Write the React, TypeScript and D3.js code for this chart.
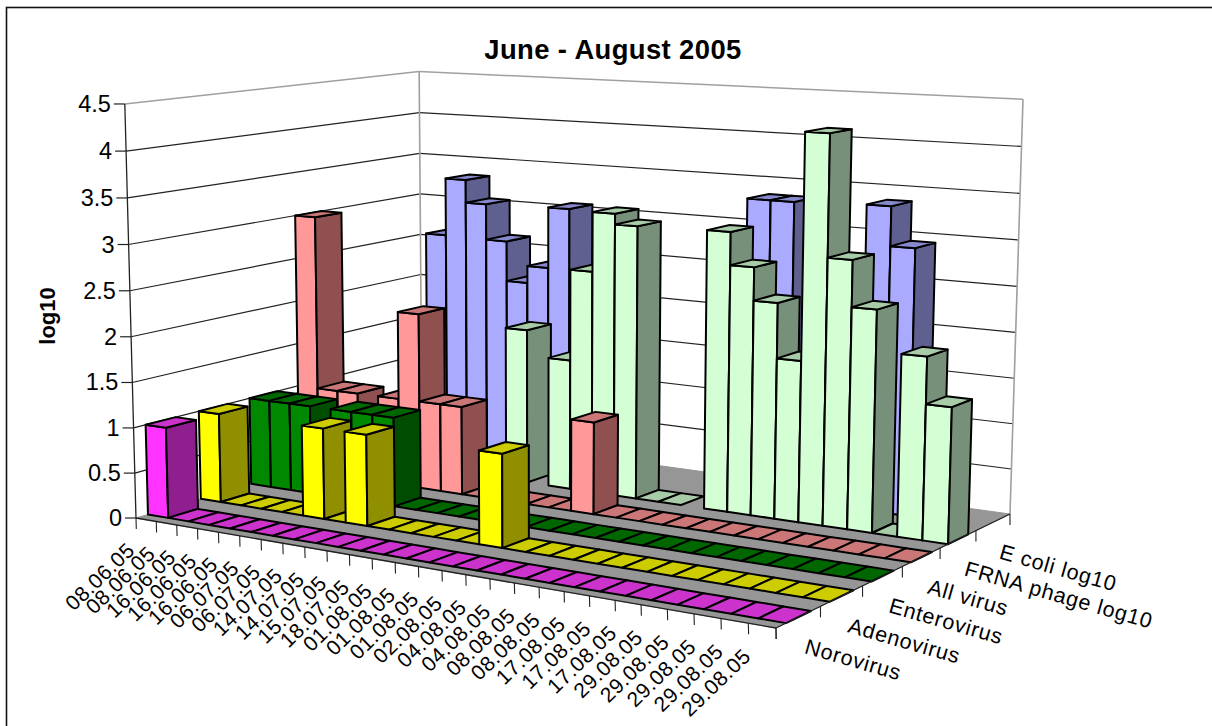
import React from "react";
import * as d3 from "d3";

// Sampling dates along the category axis
const dates = [
  "08.06.05", "08.06.05", "16.06.05", "16.06.05", "16.06.05", "06.07.05", "06.07.05",
  "14.07.05", "14.07.05", "15.07.05", "18.07.05", "01.08.05", "01.08.05", "01.08.05",
  "02.08.05", "04.08.05", "04.08.05", "08.08.05", "08.08.05", "17.08.05", "17.08.05",
  "17.08.05", "29.08.05", "29.08.05", "29.08.05", "29.08.05", "29.08.05",
];
const _ = null;
// log10 counts; null means the sample has no result and nothing is drawn for it
const norovirus = [1, 0, 0, 0, 0, 0, 0, 0, 0, 0, 0, 0, 0, 0, 0, 0, 0, 0, 0, 0, 0, 0, 0, 0, 0, 0, 0];
const adenovirus = [1, 0, 0, 0, 0, 1, 0, 1, 0, 0, 0, 0, 0, 1, 0, 0, 0, 0, 0, 0, 0, 0, 0, 0, 0, 0, 0];
const enterovirus = [1, 1, 1, 0, 1, 1, 1, 0, 0, 0, 0, 0, 0, 0, 0, 0, 0, 0, 0, 0, 0, 0, 0, 0, 0, 0, 0];
const allVirus = [3, 1, 1, 0, 1, 2, 1, 1, 0, 0, 0, 0, 0, 1.02, 0, 0, 0, 0, 0, 0, 0, 0, 0, 0, 0, 0, 0];
const frnaPhage = [_, _, _, _, _, _, _, _, 1.77, _, 1.48, 2.51, 3.18, 3.06, 0, 0, _, 3.08, 2.72, 2.36, 1.76, 4.2, 2.89, 2.39, 0, 1.95, 1.45];
const eColi = [_, _, 2.63, 3.31, 3.04, 2.62, 2.15, 2.35, 3.06, _, _, _, _, _, _, _, _, 3.33, 3.33, _, _, _, 3.36, 2.93, _, _, _];

const seriesNames = ["Norovirus", "Adenovirus", "Enterovirus", "All virus", "FRNA phage log10", "E coli log10"];
const seriesValues = [norovirus, adenovirus, enterovirus, allVirus, frnaPhage, eColi];
// front, top and side shades per series
const shades = [
  ["#ff33ff", "#cc33cc", "#8f1f8f"],
  ["#ffff00", "#cccc00", "#8f8f00"],
  ["#008800", "#006600", "#004c00"],
  ["#ff9999", "#cc7777", "#905050"],
  ["#d4ffd4", "#a8cca8", "#76907a"],
  ["#aaaaff", "#8888cc", "#606090"],
];
const yTicks = [0, 0.5, 1, 1.5, 2, 2.5, 3, 3.5, 4, 4.5];

type Pt = [number, number];

// Corners of the plot box in page pixels: floor, then wall tops
const floorFL: Pt = [136, 518];
const floorFR: Pt = [776, 628];
const floorBR: Pt = [1010, 514];
const floorBL: Pt = [422, 433];
const topFL: Pt = [125, 103];
const topBL: Pt = [419, 70];
const topBR: Pt = [1023, 102];

const xScale = d3.scaleLinear().domain([0, dates.length]).range([0, 1]);
const zScale = d3.scaleLinear().domain([0, seriesNames.length]).range([0, 1]);
const yScale = d3.scaleLinear().domain([0, 4.5]).range([0, 1]);

// Homography from the unit square onto the floor quad
function floorHomography(p0: Pt, p1: Pt, p2: Pt, p3: Pt) {
  const dx1 = p1[0] - p2[0], dx2 = p3[0] - p2[0], sx = p0[0] - p1[0] + p2[0] - p3[0];
  const dy1 = p1[1] - p2[1], dy2 = p3[1] - p2[1], sy = p0[1] - p1[1] + p2[1] - p3[1];
  const den = dx1 * dy2 - dx2 * dy1;
  const g = (sx * dy2 - dx2 * sy) / den;
  const h = (dx1 * sy - sx * dy1) / den;
  return {
    a: p1[0] - p0[0] + g * p1[0], b: p3[0] - p0[0] + h * p3[0], c: p0[0],
    d: p1[1] - p0[1] + g * p1[1], e: p3[1] - p0[1] + h * p3[1], f: p0[1],
    g, h,
  };
}
const H = floorHomography(floorFL, floorFR, floorBR, floorBL);

function det3(m: number[][]) {
  return (
    m[0][0] * (m[1][1] * m[2][2] - m[1][2] * m[2][1]) -
    m[0][1] * (m[1][0] * m[2][2] - m[1][2] * m[2][0]) +
    m[0][2] * (m[1][0] * m[2][1] - m[1][1] * m[2][0])
  );
}

// Least-squares vertical column of the camera from the three known wall tops
function verticalColumn() {
  const rows: number[][] = [];
  const rhs: number[] = [];
  const known: [number, number, Pt][] = [[0, 0, topFL], [0, 1, topBL], [1, 1, topBR]];
  for (const [u, v, t] of known) {
    const W = H.g * u + H.h * v + 1;
    rows.push([1, 0, -t[0]]);
    rhs.push(t[0] * W - (H.a * u + H.b * v + H.c));
    rows.push([0, 1, -t[1]]);
    rhs.push(t[1] * W - (H.d * u + H.e * v + H.f));
  }
  const ata = [0, 1, 2].map((i) => [0, 1, 2].map((j) => d3.sum(rows, (r) => r[i] * r[j])));
  const atb = [0, 1, 2].map((i) => d3.sum(rows, (r, k) => r[i] * rhs[k]));
  const D = det3(ata);
  return [0, 1, 2].map((col) => det3(ata.map((r, i) => r.map((val, j) => (j === col ? atb[i] : val)))) / D);
}
const [vx, vy, vw] = verticalColumn();

// Project a chart position (category, series depth, log10 value) to the page
function project(x: number, z: number, y: number): Pt {
  const u = xScale(x), v = zScale(z), t = yScale(y);
  const w = H.g * u + H.h * v + 1 + vw * t;
  return [(H.a * u + H.b * v + H.c + vx * t) / w, (H.d * u + H.e * v + H.f + vy * t) / w];
}

const line = d3.line<Pt>();
const poly = (pts: Pt[]) => line(pts) + "Z";

const nCats = dates.length;
const nSeries = seriesNames.length;
const margin = 0.22; // gap in front of and behind each row of bars

const font = "'Liberation Sans', Arial, sans-serif";

function Bar({ i, s, value }: { i: number; s: number; value: number }) {
  const [front, top, side] = shades[s];
  const z0 = s + margin, z1 = s + 1 - margin;
  const x0 = i, x1 = i + 1;
  const common = { stroke: "#000", strokeWidth: 2, strokeLinejoin: "round" as const };
  const topFace = poly([project(x0, z0, value), project(x1, z0, value), project(x1, z1, value), project(x0, z1, value)]);
  if (value === 0) return <path d={topFace} fill={top} {...common} />;
  return (
    <g>
      <path d={poly([project(x0, z0, 0), project(x1, z0, 0), project(x1, z0, value), project(x0, z0, value)])} fill={front} {...common} />
      <path d={poly([project(x1, z0, 0), project(x1, z1, 0), project(x1, z1, value), project(x1, z0, value)])} fill={side} {...common} />
      <path d={topFace} fill={top} {...common} />
    </g>
  );
}

export default function App() {
  const seg = (a: Pt, b: Pt, stroke: string, w = 1.2) => (
    <line x1={a[0]} y1={a[1]} x2={b[0]} y2={b[1]} stroke={stroke} strokeWidth={w} />
  );
  return (
    <svg width={1212} height={726} style={{ position: "absolute", left: 0, top: 0, background: "#fff" }}>
      {/* chart frame, its right and bottom edges fall outside the page */}
      <rect x={6.5} y={7.5} width={1400} height={900} fill="none" stroke="#111" strokeWidth={1.6} />
      <text x={613} y={59} textAnchor="middle" fontFamily={font} fontWeight="bold" fontSize={27.4} letterSpacing={0.4} fill="#000">
        June - August 2005
      </text>
      <text transform="translate(55,316) rotate(-90)" textAnchor="middle" fontFamily={font} fontWeight="bold" fontSize={22} fill="#000">
        log10
      </text>

      {/* floor and walls */}
      <path d={poly([project(0, 0, 0), project(nCats, 0, 0), project(nCats, nSeries, 0), project(0, nSeries, 0)])} fill="#969696" stroke="#969696" />
      {yTicks.map((t) => (
        <g key={t}>
          {t > 0 && seg(project(0, 0, t), project(0, nSeries, t), t === 4.5 ? "#a0a0a0" : "#222", t === 4.5 ? 1.5 : 1.2)}
          {t > 0 && seg(project(0, nSeries, t), project(nCats, nSeries, t), t === 4.5 ? "#a0a0a0" : "#222", t === 4.5 ? 1.5 : 1.2)}
        </g>
      ))}
      {seg(project(0, nSeries, 0), project(0, nSeries, 4.5), "#a0a0a0", 1.6)}
      {seg(project(nCats, nSeries, 0), project(nCats, nSeries, 4.5), "#a0a0a0", 1.6)}

      {/* value axis */}
      {seg(project(0, 0, 0), project(0, 0, 4.5), "#222", 1.3)}
      {yTicks.map((t) => {
        const p = project(0, 0, t);
        return (
          <g key={t}>
            {seg([p[0] - 11, p[1]], p, "#222", 1.2)}
            <text x={p[0] - 14} y={p[1] + 8} textAnchor="end" fontFamily={font} fontSize={23.5} fill="#000">
              {t}
            </text>
          </g>
        );
      })}

      {/* bars, back row first and left to right so nearer faces overlap */}
      {d3.range(nSeries - 1, -1, -1).map((s) =>
        seriesValues[s].map((value, i) => (value === null ? null : <Bar key={s + "-" + i} i={i} s={s} value={value} />))
      )}

      {/* front and side edges with ticks */}
      {seg(project(0, 0, 0), project(nCats, 0, 0), "#222", 1.3)}
      {seg(project(nCats, 0, 0), project(nCats, nSeries, 0), "#222", 1.3)}
      {d3.range(nCats + 1).map((i) => {
        const p = project(i, 0, 0);
        return <g key={i}>{seg(p, [p[0] + 0.3, p[1] + 11], "#222", 1.1)}</g>;
      })}
      {d3.range(nSeries + 1).map((s) => {
        const p = project(nCats, s, 0);
        return <g key={s}>{seg(p, [p[0], p[1] + 11], "#222", 1.1)}</g>;
      })}

      {dates.map((d, i) => {
        const p = project(i + 0.5, 0, 0);
        return (
          <text
            key={i}
            transform={`translate(${p[0] - 10},${p[1] + 32}) rotate(-44)`}
            textAnchor="end"
            fontFamily={font}
            fontSize={21}
            letterSpacing={0.6}
            fill="#000"
          >
            {d}
          </text>
        );
      })}
      {seriesNames.map((name, s) => {
        const p = project(nCats, s + 0.5, 0);
        return (
          <text
            key={name}
            transform={`translate(${p[0] + 5},${p[1] + 36}) rotate(16)`}
            fontFamily={font}
            fontSize={21.5}
            letterSpacing={0.8}
            fill="#000"
          >
            {name}
          </text>
        );
      })}
    </svg>
  );
}
